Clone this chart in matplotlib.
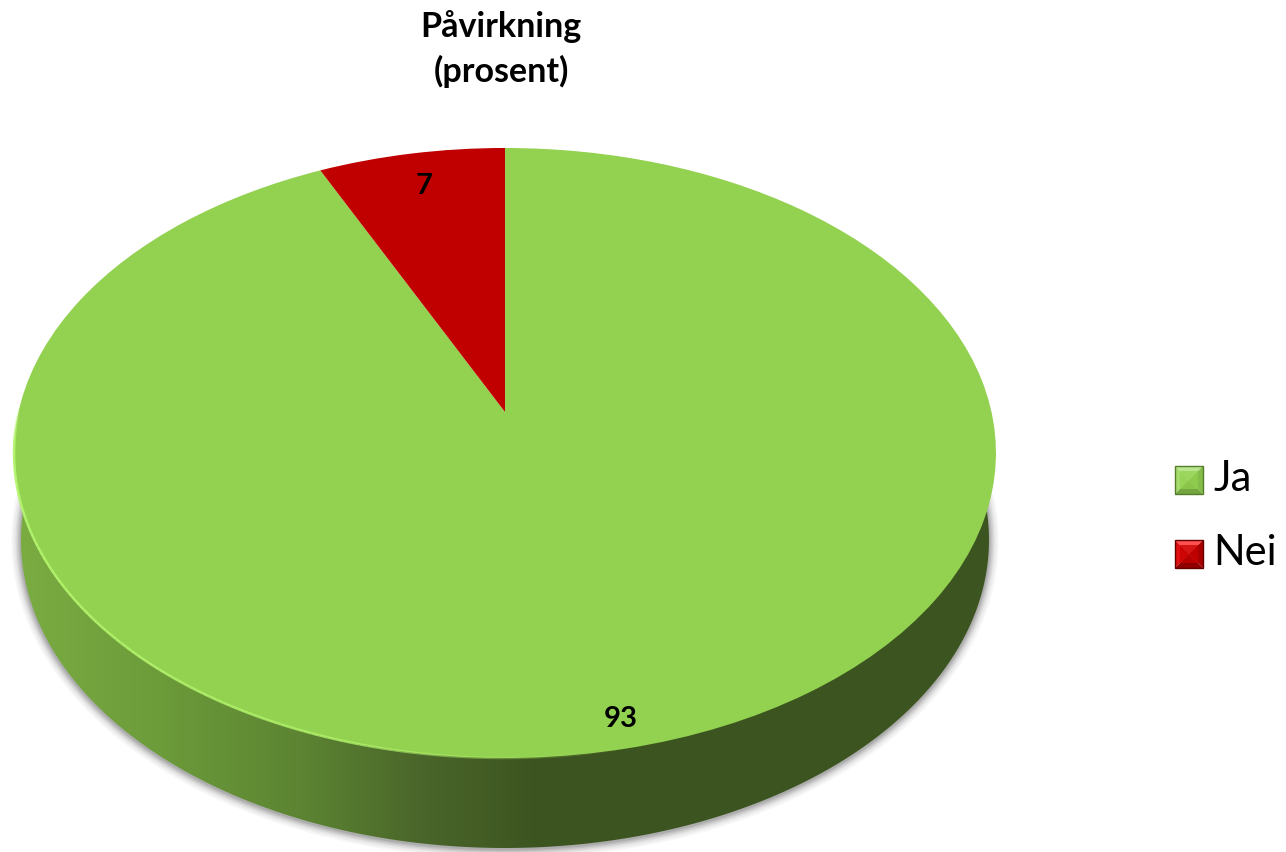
# -*- coding: utf-8 -*-
import matplotlib
matplotlib.use("Agg")
import matplotlib.pyplot as plt
import numpy as np
from matplotlib.collections import LineCollection
from matplotlib.patches import Polygon
from matplotlib.transforms import Transform

labels = ["Ja", "Nei"]
values = [93, 7]
colors = ["#93D150", "#C00000"]
title = "Påvirkning\n(prosent)"

plt.rcParams["font.family"] = ["Lato", "DejaVu Sans"]

# geometri for den skraa kaken, i piksler
cx, cy = 505, 412
a, b, k = 486.5, 299.5, 0.1344
low_cy, low_rx, low_ry = 540, 484, 308


class Skraa(Transform):  # perspektiv: enhetssirkel -> ellipse med senter forskjovet
    input_dims = 2
    output_dims = 2

    def transform_non_affine(self, xy):
        xy = np.asarray(xy, dtype=float)
        d = 1 + k * xy[:, 1]
        return np.column_stack([cx + a * xy[:, 0] / d, cy - b * xy[:, 1] / d])


def key(x, y, s, top, left, right, bottom, mid, edge):  # firkant med fasett i legenden
    c = [x + s / 2, y + s / 2]
    tl, tr, br, bl = [x, y], [x + s, y], [x + s, y + s], [x, y + s]
    m = 5
    itl, itr, ibr, ibl = [x + m, y + m], [x + s - m, y + m], [x + s - m, y + s - m], [x + m, y + s - m]
    ax.add_patch(Polygon([tl, tr, c], fc=top, ec="none", zorder=6))
    ax.add_patch(Polygon([tl, bl, c], fc=left, ec="none", zorder=6))
    ax.add_patch(Polygon([tr, br, c], fc=right, ec="none", zorder=6))
    ax.add_patch(Polygon([bl, br, c], fc=bottom, ec="none", zorder=6))
    ax.add_patch(Polygon([itl, itr, ibr, ibl], fc=mid, ec="none", alpha=0.75, zorder=7))
    ax.add_patch(Polygon([tl, tr, br, bl], fc="none", ec=edge, lw=1.0, zorder=8))


fig = plt.figure(figsize=(12.86, 8.52), dpi=100)
ax = fig.add_axes([0, 0, 1, 1])

wedges, _ = ax.pie(values, colors=colors, startangle=90, counterclock=False, radius=1,
                   wedgeprops={"linewidth": 0})
persp = Skraa()
for w in wedges:
    w.set_transform(persp + ax.transData)
    w.set_zorder(4)

# sideveggen
t = np.radians(np.linspace(172, 368, 200))
lx = cx + low_rx * np.cos(t)
ly = low_cy - low_ry * np.sin(t)

# skygge under kanten
for lw, al in zip([14, 11, 8, 6, 4, 2], [0.04, 0.05, 0.07, 0.08, 0.10, 0.12]):
    ax.plot(lx, ly + 1, color="#303030", lw=lw, alpha=al, zorder=1, solid_capstyle="round")

px = np.arange(1286)
shade = np.zeros((1, 1286, 3))
for i, (c0, c1, c2, c3, c4) in enumerate(zip((122, 172, 66), (108, 155, 58), (92, 132, 50), (74, 102, 42), (60, 84, 32))):
    shade[0, :, i] = np.interp(px, [20, 160, 300, 420, 540], [c0, c1, c2, c3, c4]) / 255
im = ax.imshow(shade, extent=(0, 1286, 852, 0), aspect="auto", zorder=2)
side = np.vstack([[14, 453], np.column_stack([lx, ly]), [996, 453]])
clip = Polygon(side, transform=ax.transData, fc="none", ec="none")
ax.add_patch(clip)
im.set_clip_path(clip)

# lys kant nederst til venstre paa toppflaten
r = np.radians(np.linspace(178, 282, 120))
rim = persp.transform_non_affine(np.column_stack([np.cos(r), np.sin(r)]))
segs = np.stack([rim[:-1], rim[1:]], axis=1)
al = np.clip(np.interp(np.arange(len(segs)), [0, 8, 85, 118], [0.0, 1.0, 0.8, 0.0]), 0, 1)
rgba = np.zeros((len(segs), 4))
rgba[:, :3] = matplotlib.colors.to_rgb("#B4F56E")
rgba[:, 3] = al
ax.add_collection(LineCollection(segs, colors=rgba, linewidths=1.8, zorder=5))

# tekst
ax.text(501, 49, title, ha="center", va="center", fontsize=24.5, fontweight="bold",
        linespacing=1.44, color="black", zorder=9)
ax.text(621, 719, str(values[0]), ha="center", va="center", fontsize=21, fontweight="bold", zorder=9)
ax.text(424, 186, str(values[1]), ha="center", va="center", fontsize=21, fontweight="bold", zorder=9)

# legende
key(1175, 466, 28, "#B9E58F", "#A5DA6C", "#83BC48", "#74A63F", "#93D150", "#567D2C")
key(1175, 540, 28, "#FF5050", "#E01010", "#A80000", "#900000", "#C80000", "#640000")
ax.text(1213, 479, labels[0], ha="left", va="center", fontsize=30, zorder=9)
ax.text(1213, 553, labels[1], ha="left", va="center", fontsize=30, zorder=9)

ax.set_aspect("auto")
ax.set_xlim(0, 1286)
ax.set_ylim(852, 0)
ax.axis("off")

plt.savefig("out.png", dpi=100)
